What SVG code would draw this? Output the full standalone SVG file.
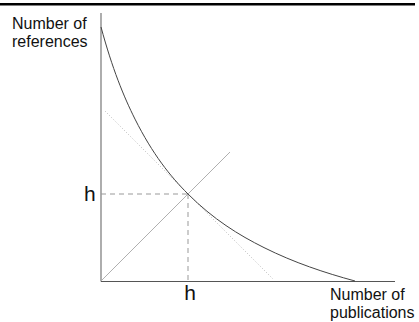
<svg xmlns="http://www.w3.org/2000/svg" width="419" height="322" viewBox="0 0 419 322">
<style>
.lbl{font-family:"Liberation Sans",Arial,sans-serif;font-size:16px;fill:#111}
.h{font-family:"Liberation Sans",Arial,sans-serif;font-size:21px;fill:#111}
.dash{stroke:#999;stroke-width:1;stroke-dasharray:5,4;fill:none}
</style>
<rect x="0" y="3" width="415" height="2.5" fill="#000"/>
<g id="axes">
<line x1="101" y1="13" x2="101" y2="281.5" stroke="#777" stroke-width="1.2"/>
<line x1="101" y1="281.5" x2="395" y2="281.5" stroke="#555" stroke-width="1.2"/>
</g>
<g id="guides">
<line x1="101" y1="281" x2="230" y2="152" stroke="#b0b0b0" stroke-width="1"/>
<line x1="105" y1="111" x2="273" y2="279" stroke="#bbb" stroke-width="1" stroke-dasharray="1,2"/>
<line class="dash" x1="101" y1="194" x2="188" y2="194"/>
<line class="dash" x1="188" y1="194" x2="188" y2="281"/>
</g>
<g id="curve">
<path d="M101,27 C112.33,68.76 123.67,96.5 135,119.1 C152.67,154.3 170.33,176.33 188,194 C213.33,219.33 238.67,235 264,247.6 C294.33,262.7 324.67,272.8 355,281" fill="none" stroke="#444" stroke-width="1"/>
</g>
<g id="labels">
<text class="lbl"><tspan x="12" y="28.5">Number of</tspan><tspan x="12" y="46.5">references</tspan></text>
<text class="h" x="84" y="201">h</text>
<text class="h" x="190" y="300" text-anchor="middle">h</text>
<text class="lbl"><tspan x="330" y="299.5">Number of</tspan><tspan x="330" y="317.5">publications</tspan></text>
</g>
</svg>
